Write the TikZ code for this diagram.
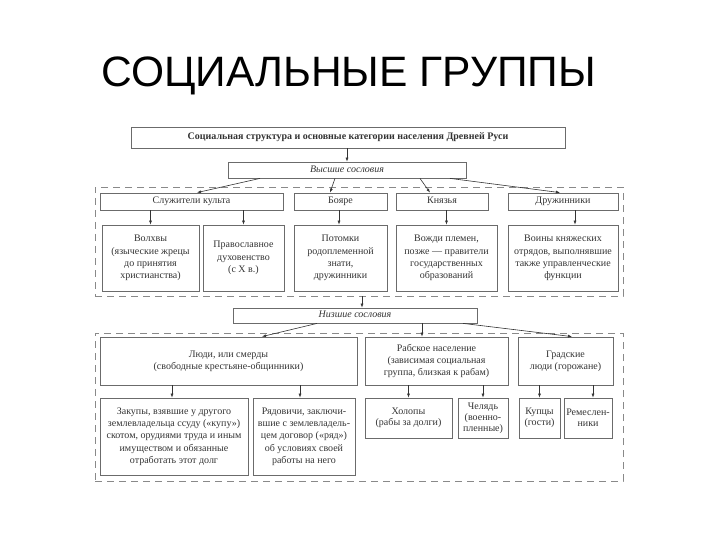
\documentclass[tikz,border=0pt]{standalone}
\usepackage{fontspec}
\setmainfont{Liberation Serif}
\newfontfamily\titlefont{Liberation Sans}
\usetikzlibrary{arrows.meta}
\definecolor{linegray}{gray}{0.42}
\definecolor{txtgray}{gray}{0.2}
\tikzset{
  box/.style={draw=linegray, line width=0.8pt, align=center, inner sep=0pt,
    text=txtgray, font=\fontsize{10}{12.3}\selectfont},
  smallbox/.style={box, minimum height=40pt, font=\fontsize{10}{11}\selectfont},
  oneline/.style={text height=7pt, text depth=2.5pt},
  dashbox/.style={draw=linegray!80, line width=0.8pt, dash pattern=on 7pt off 5pt, inner sep=0pt},
  arr/.style={draw=txtgray, line width=0.6pt, -{Latex[length=4pt,width=3pt]}},
}
\begin{document}
\begin{tikzpicture}[x=1pt,y=-1pt]
\useasboundingbox (0,0) rectangle (720,540);
\node[anchor=base, font=\titlefont\fontsize{42.5}{46}\selectfont] (title) at (348.5,87) {СОЦИАЛЬНЫЕ ГРУППЫ};

% dashed frames
\node[dashbox, minimum width=528pt, minimum height=109pt] (d1) at (359,241.5) {};
\node[dashbox, minimum width=528pt, minimum height=148pt] (d2) at (359,407) {};

\node[box, oneline, minimum width=434pt, minimum height=21pt, font=\fontsize{10}{12}\selectfont\bfseries] (top) at (348,137.5) {Социальная структура и основные категории населения Древней Руси};
\node[box, oneline, minimum width=238pt, minimum height=16pt, font=\fontsize{10}{12}\selectfont\itshape] (high) at (347,170) {Высшие сословия};

\node[box, oneline, minimum width=183pt, minimum height=17pt] (sluzh) at (191.5,201.5) {Служители культа};
\node[box, oneline, minimum width=93pt, minimum height=17pt] (boyare) at (340.5,201.5) {Бояре};
\node[box, oneline, minimum width=92pt, minimum height=17pt] (knyaz) at (442,201.5) {Князья};
\node[box, oneline, minimum width=110pt, minimum height=17pt] (druzh) at (563,201.5) {Дружинники};

\node[box, minimum width=97pt, minimum height=66pt] (volhvy) at (150.5,258) {Волхвы\\(языческие жрецы\\до принятия\\христианства)};
\node[box, minimum width=81pt, minimum height=66pt] (prav) at (243.5,258) {Православное\\духовенство\\(с X в.)};
\node[box, minimum width=93pt, minimum height=66pt] (potomki) at (340.5,258) {Потомки\\родоплеменной\\знати,\\дружинники};
\node[box, minimum width=101pt, minimum height=66pt] (vozhdi) at (446.5,258) {Вожди племен,\\позже — правители\\государственных\\образований};
\node[box, minimum width=110pt, minimum height=66pt] (voiny) at (563,258) {Воины княжеских\\отрядов, выполнявшие\\также управленческие\\функции};

\node[box, oneline, minimum width=244pt, minimum height=15pt, font=\fontsize{10}{12}\selectfont\itshape] (low) at (355,315.5) {Низшие сословия};

\node[box, minimum width=257pt, minimum height=48pt] (lyudi) at (228.5,361) {Люди, или смерды\\(свободные крестьяне-общинники)};
\node[box, minimum width=143pt, minimum height=48pt] (rab) at (436.5,361) {Рабское население\\(зависимая социальная\\группа, близкая к рабам)};
\node[box, minimum width=95pt, minimum height=48pt] (grad) at (565.5,361) {Градские\\люди (горожане)};

\node[box, minimum width=148pt, minimum height=77pt] (zakupy) at (174,436.5) {Закупы, взявшие у другого\\землевладельца ссуду («купу»)\\скотом, орудиями труда и иным\\имуществом и обязанные\\отработать этот долг};
\node[box, minimum width=102pt, minimum height=77pt] (ryad) at (304,436.5) {Рядовичи, заключи-\\вшие с землевладель-\\цем договор («ряд»)\\об условиях своей\\работы на него};
\node[smallbox, minimum width=87pt] (holopy) at (408.5,418) {Холопы\\(рабы за долги)};
\node[smallbox, minimum width=50pt] (chelyad) at (483,418) {Челядь\\(военно-\\пленные)};
\node[smallbox, minimum width=41pt] (kupcy) at (539.5,418) {Купцы\\(гости)};
\node[smallbox, minimum width=48pt] (remesl) at (588,418) {Ремеслен-\\ники};

% connectors
\draw[arr] (top.south -| high.north) -- (high.north);
\draw[arr] ([xshift=-87pt]high.south) -- ([xshift=5.5pt]sluzh.north);
\draw[arr] ([xshift=-12pt]high.south) -- ([xshift=-10.5pt]boyare.north);
\draw[arr] ([xshift=73pt]high.south) -- ([xshift=-12pt]knyaz.north);
\draw[arr] ([xshift=103pt]high.south) -- ([xshift=-3pt]druzh.north);

\draw[arr] (sluzh.south -| volhvy.north) -- (volhvy.north);
\draw[arr] (sluzh.south -| prav.north) -- (prav.north);
\draw[arr] ([xshift=-1.5pt]boyare.south) -- ([xshift=-1.5pt]potomki.north);
\draw[arr] (knyaz.south -| vozhdi.north) -- (vozhdi.north);
\draw[arr] ([xshift=12pt]druzh.south) -- ([xshift=12pt]voiny.north);

\draw[arr] ([xshift=7pt]low.north |- d1.south) -- ([xshift=7pt]low.north);

\draw[arr] ([xshift=-38pt]low.south) -- ([xshift=33.5pt]lyudi.north);
\draw[arr] ([xshift=-14.5pt]rab.north |- low.south) -- ([xshift=-14.5pt]rab.north);
\draw[arr] ([xshift=108pt]low.south) -- ([xshift=6.5pt]grad.north);

\draw[arr] ([xshift=-2pt]zakupy.north |- lyudi.south) -- ([xshift=-2pt]zakupy.north);
\draw[arr] ([xshift=-4pt]ryad.north |- lyudi.south) -- ([xshift=-4pt]ryad.north);
\draw[arr] (rab.south -| holopy.north) -- (holopy.north);
\draw[arr] (rab.south -| chelyad.north) -- (chelyad.north);
\draw[arr] (grad.south -| kupcy.north) -- (kupcy.north);
\draw[arr] ([xshift=5pt]remesl.north |- grad.south) -- ([xshift=5pt]remesl.north);
\end{tikzpicture}
\end{document}
